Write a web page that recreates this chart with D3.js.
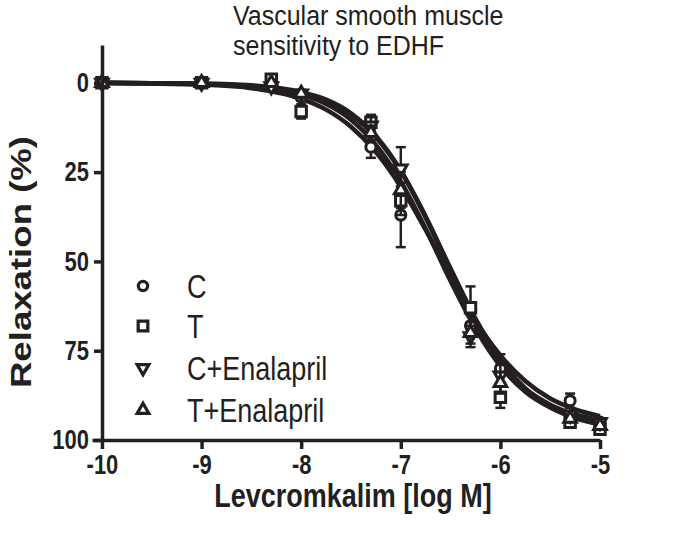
<!DOCTYPE html>
<html>
<head>
<meta charset="utf-8">
<script src="https://cdn.jsdelivr.net/npm/d3@7"></script>
<style>
  body { margin: 0; background: #fff; }
  text { font-family: "Liberation Sans", Arial, sans-serif; fill: #231f20; }
</style>
</head>
<body>
<div id="chart"></div>
<script>
// 1. Data

const groups = ["C", "T", "C+Enalapril", "T+Enalapril"]
const logConc = [-10, -9, -8.3, -8, -7.3, -7, -6.3, -6, -5.3, -5]

// mean relaxation (%) per group
const relaxC = [0, 0, 1, 4, 18, 37, 68, 80, 89, 95]
const relaxT = [0, 0, -1, 8, 11, 33, 63, 88, 95, 97]
const relaxCE = [0, 0, 1, 3, 12, 24, 71, 82, 93, 95]
const relaxTE = [0, 0, 0, 3, 14, 30, 70, 84, 94, 96]

// SEM per point
const semC = [0, 0, 0, 1, 3, 9, 3, 4, 2, 1]
const semT = [0, 0, 0, 2, 2, 4, 6, 3, 1, 1]
const semCE = [0, 0, 0, 1, 3, 6, 3, 3, 1, 1]
const semTE = [0, 0, 0, 1, 2, 5, 3, 3, 1, 1]

// fitted curves
const curveX = [-10, -9.5, -9, -8.5, -8, -7.75, -7.5, -7.25, -7, -6.75, -6.5, -6.25, -6, -5.75, -5.5, -5.25, -5]
const curveC = [0.1, 0.2, 0.5, 1.5, 4.5, 7.5, 12.3, 19.4, 29.1, 41.2, 54.2, 66.5, 76.3, 83.5, 88.4, 91.4, 93.3]
const curveT = [0, 0.1, 0.3, 0.9, 2.9, 5.1, 8.9, 15.2, 24.7, 37.4, 52.0, 66.0, 77.5, 85.6, 90.8, 93.9, 95.7]
const curveCE = [0, 0.1, 0.2, 0.7, 2.6, 4.7, 8.5, 14.9, 24.6, 37.8, 52.8, 67.0, 78.0, 85.6, 90.1, 92.8, 94.3]
const curveTE = [0, 0.1, 0.3, 1.0, 3.3, 5.9, 10.3, 17.4, 27.6, 40.9, 55.5, 68.8, 79.3, 86.5, 90.9, 93.6, 95.1]

const xTicks = [-10, -9, -8, -7, -6, -5]
const yTicks = [0, 25, 50, 75, 100]

const series = [
  { name: groups[0], y: relaxC, sem: semC, fit: curveC, symbol: d3.symbolCircle, size: 80, rotate: 0 },
  { name: groups[1], y: relaxT, sem: semT, fit: curveT, symbol: d3.symbolSquare, size: 110, rotate: 0 },
  { name: groups[2], y: relaxCE, sem: semCE, fit: curveCE, symbol: d3.symbolTriangle, size: 70, rotate: 180 },
  { name: groups[3], y: relaxTE, sem: semTE, fit: curveTE, symbol: d3.symbolTriangle, size: 70, rotate: 0 },
]

// 2. Dimensions

const dimensions = { width: 697, height: 536 }
const stretch = 1.22 // the figure is a bit taller than wide, text too

// 3. Canvas

const wrapper = d3.select("#chart")
  .append("svg")
    .attr("width", dimensions.width)
    .attr("height", dimensions.height)

// 4. Scales

const xScale = d3.scaleLinear()
  .domain([-10.1, -5])
  .range([92, 600])

const yScale = d3.scaleLinear()
  .domain([-10.6, 100])
  .range([45, 440])

const ink = "#231f20"

// 5. Curves

const lineGenerator = d3.line()
  .x((d, i) => xScale(curveX[i]))
  .y(d => yScale(d))
  .curve(d3.curveMonotoneX)

series.forEach(s => {
  wrapper.append("path")
    .attr("d", lineGenerator(s.fit))
    .attr("fill", "none")
    .attr("stroke", ink)
    .attr("stroke-width", 4.5)
})

// 6. Error bars and points

series.forEach(s => {
  const g = wrapper.append("g")
  logConc.forEach((x, i) => {
    if (s.sem[i] > 0) {
      const cx = xScale(x)
      const y1 = yScale(s.y[i] - s.sem[i])
      const y2 = yScale(s.y[i] + s.sem[i])
      g.append("line").attr("x1", cx).attr("x2", cx).attr("y1", y1).attr("y2", y2)
        .attr("stroke", ink).attr("stroke-width", 2.5)
      ;[y1, y2].forEach(yy => g.append("line")
        .attr("x1", cx - 5).attr("x2", cx + 5).attr("y1", yy).attr("y2", yy)
        .attr("stroke", ink).attr("stroke-width", 2.5))
    }
  })
  g.selectAll("path.pt")
    .data(s.y)
    .join("path")
      .attr("class", "pt")
      .attr("d", d3.symbol(s.symbol, s.size))
      .attr("transform", (d, i) => `translate(${xScale(logConc[i])},${yScale(d)}) rotate(${s.rotate})`)
      .attr("fill", "#fff")
      .attr("stroke", ink)
      .attr("stroke-width", 3)
})

// 7. Axes

const xAxis = wrapper.append("g")
  .attr("transform", `translate(0,440)`)
  .call(d3.axisBottom(xScale).tickValues(xTicks).tickSize(9).tickSizeOuter(0).tickFormat(d => String(d)))
xAxis.select(".domain").attr("stroke", ink).attr("stroke-width", 3.5)
xAxis.selectAll(".tick line").attr("stroke", ink).attr("stroke-width", 3.5)
xAxis.selectAll(".tick text")
  .attr("y", 12)
  .attr("dy", "0.71em")
  .attr("transform", `scale(1,${stretch})`)
  .attr("font-size", 22)
  .attr("font-weight", "bold")

const yAxis = wrapper.append("g")
  .attr("transform", `translate(102,0)`)
  .call(d3.axisLeft(yScale).tickValues(yTicks).tickSize(8).tickSizeOuter(0))
yAxis.select(".domain").attr("stroke", ink).attr("stroke-width", 3.5)
yAxis.selectAll(".tick line").attr("stroke", ink).attr("stroke-width", 3.5)
yAxis.selectAll(".tick text")
  .attr("x", -13)
  .attr("transform", `scale(1,${stretch})`)
  .attr("font-size", 22)
  .attr("font-weight", "bold")

wrapper.append("text")
  .attr("transform", `translate(353,507) scale(1,${stretch})`)
  .attr("text-anchor", "middle")
  .attr("font-size", 27)
  .attr("font-weight", "bold")
  .text("Levcromkalim [log M]")

wrapper.append("text")
  .attr("transform", `translate(31,262) rotate(-90) scale(${stretch},1)`)
  .attr("text-anchor", "middle")
  .attr("font-size", 30)
  .attr("font-weight", "bold")
  .text("Relaxation (%)")

// 8. Title

const titleLines = ["Vascular smooth muscle", "sensitivity to EDHF"]
titleLines.forEach((line, i) => {
  wrapper.append("text")
    .attr("transform", `translate(233,${25 + i * 30}) scale(1,1.12)`)
    .attr("font-size", 25)
    .text(line)
})

// 9. Legend

const legendY = [286, 326, 368, 410]
series.forEach((s, i) => {
  wrapper.append("path")
    .attr("d", d3.symbol(s.symbol, s.size * 0.85))
    .attr("transform", `translate(143,${legendY[i]}) rotate(${s.rotate})`)
    .attr("fill", "#fff")
    .attr("stroke", ink)
    .attr("stroke-width", 3.2)
  wrapper.append("text")
    .attr("transform", `translate(187,${legendY[i]}) scale(1,${stretch})`)
    .attr("dy", "0.36em")
    .attr("font-size", 27)
    .text(s.name)
})
</script>
</body>
</html>
